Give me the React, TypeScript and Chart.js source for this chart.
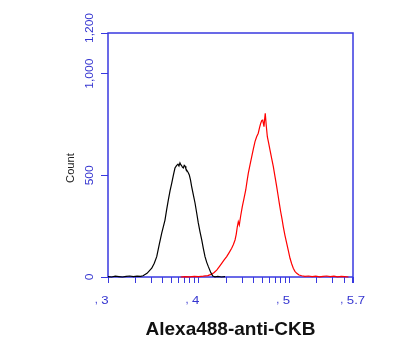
import React, { useEffect, useRef } from "react";
import { Chart, registerables } from "chart.js";

Chart.register(...registerables);

// log10 fluorescence (x) and counts (y)
const blackX = [3.0, 3.04, 3.08, 3.12, 3.16, 3.2, 3.24, 3.28, 3.32, 3.36, 3.386, 3.43, 3.482, 3.51, 3.537, 3.565, 3.592, 3.61, 3.628, 3.646, 3.665, 3.684, 3.702, 3.72, 3.738, 3.755, 3.771, 3.782, 3.793, 3.802, 3.81, 3.82, 3.83, 3.84, 3.849, 3.858, 3.867, 3.882, 3.896, 3.909, 3.922, 3.94, 3.959, 3.977, 3.995, 4.014, 4.033, 4.051, 4.069, 4.088, 4.106, 4.13, 4.154, 4.179, 4.21, 4.25, 4.29];
const blackY = [2, 0, 4, 2, 0, 3, 5, 2, 4, 3, 6, 18, 43, 68, 100, 160, 216, 248, 280, 330, 379, 425, 461, 500, 536, 548, 555, 546, 561, 552, 548, 540, 536, 549, 545, 532, 526, 515, 502, 478, 445, 405, 364, 316, 266, 222, 182, 140, 100, 72, 51, 25, 5, 1, 3, 0, 2];

const redX = [3.8, 3.85, 3.9, 3.95, 4.0, 4.05, 4.1, 4.143, 4.17, 4.198, 4.225, 4.253, 4.28, 4.308, 4.335, 4.363, 4.382, 4.4, 4.413, 4.425, 4.436, 4.447, 4.462, 4.48, 4.499, 4.518, 4.532, 4.546, 4.565, 4.584, 4.602, 4.62, 4.638, 4.656, 4.67, 4.683, 4.695, 4.705, 4.712, 4.719, 4.726, 4.733, 4.745, 4.756, 4.77, 4.785, 4.803, 4.822, 4.84, 4.859, 4.874, 4.888, 4.903, 4.918, 4.932, 4.95, 4.969, 4.988, 5.006, 5.024, 5.042, 5.06, 5.08, 5.105, 5.135, 5.17, 5.21, 5.25, 5.29, 5.33, 5.37, 5.41, 5.45, 5.49, 5.53, 5.57, 5.61, 5.65];
const redY = [0, 2, 1, 3, 2, 4, 7, 14, 22, 34, 50, 67, 84, 100, 120, 141, 160, 182, 210, 247, 272, 256, 300, 346, 387, 428, 470, 510, 552, 592, 630, 666, 690, 707, 735, 756, 770, 772, 755, 739, 775, 805, 740, 690, 660, 625, 585, 543, 495, 444, 402, 362, 321, 285, 247, 205, 166, 128, 92, 65, 43, 28, 18, 10, 6, 3, 5, 2, 4, 1, 3, 5, 2, 4, 1, 3, 2, 0];

const xMajorTicks = [3, 4, 5, 5.7];
const xMajorLabels = ["3", "4", "5", "5.7"];
const xMinorMultipliers = [2, 3, 4, 5, 6, 7, 8, 9];
const yTicks = [0, 500, 1000, 1200];
const yTickLabels = ["0", "500", "1,000", "1,200"];
const xTitle = "Alexa488-anti-CKB";
const yTitle = "Count";

const BLUE = "#3838e0";
const LABEL_BLUE = "#3535d0";

export default function App() {
  const ref = useRef<HTMLCanvasElement | null>(null);

  useEffect(() => {
    const canvas = ref.current;
    if (!canvas) return;

    const xTickValues: number[] = [];
    [3, 4, 5].forEach((d) => {
      xTickValues.push(d);
      xMinorMultipliers.forEach((m) => {
        const v = d + Math.log10(m);
        if (v <= 5.7 + 1e-6) xTickValues.push(v);
      });
    });
    xTickValues.push(5.7);

    const stretchText = (
      ctx: CanvasRenderingContext2D,
      text: string,
      x: number,
      y: number,
      sx: number,
      align: CanvasTextAlign,
      rotate = 0
    ) => {
      ctx.save();
      ctx.translate(x, y);
      if (rotate) ctx.rotate(rotate);
      ctx.scale(sx, 1);
      ctx.textAlign = align;
      ctx.fillText(text, 0, 0);
      ctx.restore();
    };

    const framePlugin = {
      id: "frame",
      beforeDatasetsDraw(chart: any) {
        const { ctx, chartArea } = chart;
        ctx.save();
        ctx.strokeStyle = BLUE;
        ctx.lineWidth = 1.5;
        ctx.strokeRect(chartArea.left, chartArea.top, chartArea.right - chartArea.left, chartArea.bottom - chartArea.top);
        ctx.restore();
      },
      afterDraw(chart: any) {
        const { ctx } = chart;
        const xs = chart.scales.x;
        const ys = chart.scales.y;
        ctx.save();
        // y tick labels (rotated)
        ctx.fillStyle = LABEL_BLUE;
        ctx.font = "10px Arial, 'Liberation Sans', sans-serif";
        ctx.textBaseline = "middle";
        yTicks.forEach((v, i) => {
          let py = ys.getPixelForValue(v);
          if (i === yTicks.length - 1) py -= 5;
          stretchText(ctx, yTickLabels[i], 90, py, 1.2, "center", -Math.PI / 2);
        });
        // x tick labels
        ctx.font = "11px Arial, 'Liberation Sans', sans-serif";
        ctx.textBaseline = "alphabetic";
        xMajorTicks.forEach((v, i) => {
          const px = xs.getPixelForValue(v);
          const label = xMajorLabels[i];
          const w = ctx.measureText(label).width * 1.2;
          const cx = i === xMajorTicks.length - 1 ? px + 3 : px - 3;
          stretchText(ctx, label, cx, 304, 1.2, "center");
          stretchText(ctx, ",", cx - w / 2 - 5, 303, 1.0, "center");
        });
        // y title
        ctx.fillStyle = "#222";
        ctx.font = "10px Arial, 'Liberation Sans', sans-serif";
        ctx.textBaseline = "middle";
        stretchText(ctx, yTitle, 71, 168, 1.12, "center", -Math.PI / 2);
        // x title
        ctx.fillStyle = "#111";
        ctx.font = "bold 19px Arial, 'Liberation Sans', sans-serif";
        ctx.textBaseline = "alphabetic";
        stretchText(ctx, xTitle, 230.5, 335, 1.0, "center");
        ctx.restore();
      },
    };

    const chart = new Chart(canvas, {
      type: "line",
      data: {
        datasets: [
          {
            label: "control",
            data: blackX.map((x, i) => ({ x, y: blackY[i] })),
            borderColor: "#000000",
            borderWidth: 1.2,
            pointRadius: 0,
            tension: 0,
            clip: false as any,
          },
          {
            label: "Alexa488-anti-CKB",
            data: redX.map((x, i) => ({ x, y: redY[i] })),
            borderColor: "#ff0000",
            borderWidth: 1.2,
            pointRadius: 0,
            tension: 0,
            clip: false as any,
          },
        ],
      },
      options: {
        responsive: false,
        animation: false,
        devicePixelRatio: 1,
        layout: { padding: { left: 0, right: 47, top: 33, bottom: 0 } },
        plugins: { legend: { display: false }, tooltip: { enabled: false } },
        scales: {
          x: {
            type: "linear",
            min: 3,
            max: 5.7,
            afterBuildTicks: (scale: any) => {
              scale.ticks = xTickValues.map((v) => ({ value: v }));
            },
            afterFit: (scale: any) => {
              scale.height = 75;
            },
            ticks: { display: false },
            grid: { drawOnChartArea: false, drawTicks: true, tickLength: 6, color: BLUE, lineWidth: 1 },
            border: { display: false },
          },
          y: {
            type: "linear",
            min: 0,
            max: 1200,
            afterBuildTicks: (scale: any) => {
              scale.ticks = yTicks.map((v) => ({ value: v }));
            },
            afterFit: (scale: any) => {
              scale.width = 108;
            },
            ticks: { display: false },
            grid: { drawOnChartArea: false, drawTicks: true, tickLength: 7, color: BLUE, lineWidth: 1 },
            border: { display: false },
          },
        },
      },
      plugins: [framePlugin],
    });

    return () => chart.destroy();
  }, []);

  return (
    <div style={{ position: "fixed", left: 0, top: 0, width: 400, height: 352, background: "#fff" }}>
      <canvas ref={ref} width={400} height={352} style={{ width: 400, height: 352 }} />
    </div>
  );
}
